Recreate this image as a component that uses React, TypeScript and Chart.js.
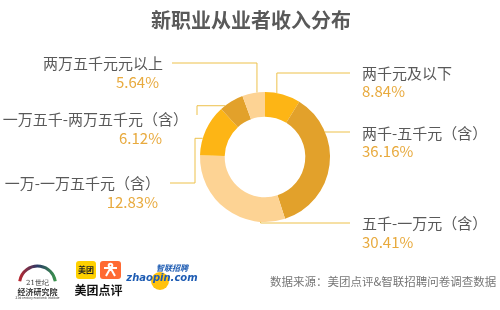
import React, { useEffect, useRef } from 'react';
import { Chart, registerables } from 'chart.js';

Chart.register(...registerables);

const categories = ['两千元及以下', '两千-五千元（含）', '五千-一万元（含）', '一万-一万五千元（含）', '一万五千-两万五千元（含）', '两万五千元元以上'];
const values = [8.84, 36.16, 30.41, 12.83, 6.12, 5.64];
const sliceColors = ['#FDB515', '#E2A12B', '#FDD394', '#FDB515', '#E2A12B', '#FDD394'];
const titleText = '新职业从业者收入分布';
const sourceText = '数据来源：美团点评&智联招聘问卷调查数据';

const FONT = '"Noto Sans CJK SC", "Noto Sans", sans-serif';

// label layout (positions only)
type LabelLayout = {
  side: 'left' | 'right';
  textX: number;
  pctX: number;
  textY: number;
  pctY: number;
  frac: number;
  route: 'vert' | 'horiz';
  elbow?: number;
  level: number;
  endX?: number;
};
const layouts: LabelLayout[] = [
  { side: 'right', textX: 362, pctX: 362, textY: 73, pctY: 91, frac: 0.33, route: 'vert', level: 73, endX: 350 },
  { side: 'right', textX: 362, pctX: 362, textY: 133, pctY: 151, frac: 0.27, route: 'vert', level: 132, endX: 350 },
  { side: 'right', textX: 362, pctX: 362, textY: 223, pctY: 242, frac: 0.2, route: 'vert', level: 223, endX: 350 },
  { side: 'left', textX: 160, pctX: 158, textY: 183, pctY: 202, frac: 0.33, route: 'horiz', elbow: 195, level: 183, endX: 170 },
  { side: 'left', textX: 188, pctX: 162, textY: 119, pctY: 138, frac: 0.2, route: 'horiz', elbow: 197, level: 115 },
  { side: 'left', textX: 163, pctX: 159, textY: 63, pctY: 82, frac: 0.65, route: 'vert', level: 63, endX: 172 },
];

const decorPlugin = {
  id: 'decor',
  afterDraw(chart: any) {
    const ctx: CanvasRenderingContext2D = chart.ctx;
    const meta = chart.getDatasetMeta(0);
    ctx.save();
    // title
    ctx.fillStyle = '#595959';
    ctx.font = `bold 20px ${FONT}`;
    ctx.textAlign = 'center';
    ctx.textBaseline = 'middle';
    ctx.fillText(titleText, 251, 20);

    // leader lines + labels
    meta.data.forEach((arc: any, i: number) => {
      const L = layouts[i];
      const p = arc.getProps(['x', 'y', 'startAngle', 'endAngle', 'outerRadius'], true);
      const a = p.startAngle + L.frac * (p.endAngle - p.startAngle);
      const ax = p.x + Math.cos(a) * p.outerRadius;
      const ay = p.y + Math.sin(a) * p.outerRadius;
      ctx.strokeStyle = '#EDC14B';
      ctx.lineWidth = 1;
      ctx.beginPath();
      ctx.moveTo(ax, ay);
      if (L.route === 'vert') {
        ctx.lineTo(ax, L.level);
        ctx.lineTo(L.endX as number, L.level);
      } else {
        ctx.lineTo(L.elbow as number, ay);
        ctx.lineTo(L.elbow as number, L.level);
        if (L.endX !== undefined) ctx.lineTo(L.endX, L.level);
      }
      ctx.stroke();

      ctx.textBaseline = 'middle';
      ctx.textAlign = L.side === 'right' ? 'left' : 'right';
      ctx.font = `15px ${FONT}`;
      ctx.fillStyle = '#595959';
      ctx.fillText(categories[i], L.textX, L.textY);
      ctx.fillStyle = '#E8AA3E';
      ctx.fillText(values[i].toFixed(2) + '%', L.pctX, L.pctY);
    });

    // source
    ctx.textAlign = 'left';
    ctx.font = `11.5px ${FONT}`;
    ctx.fillStyle = '#777777';
    ctx.fillText(sourceText, 270, 282);

    // logo 1: 21世纪经济研究院
    const grad = ctx.createLinearGradient(18, 0, 57, 0);
    grad.addColorStop(0, '#C1272D');
    grad.addColorStop(0.5, '#2B3A67');
    grad.addColorStop(1, '#3C9A4A');
    ctx.strokeStyle = grad;
    ctx.lineWidth = 3;
    ctx.beginPath();
    ctx.arc(37.5, 284, 18, Math.PI * 1.05, Math.PI * 1.95);
    ctx.stroke();
    ctx.textAlign = 'center';
    ctx.fillStyle = '#333';
    ctx.font = `7px "DejaVu Serif", serif`;
    ctx.fillText('21世纪', 37.5, 283);
    ctx.font = `bold 8px ${FONT}`;
    ctx.fillText('经济研究院', 37.5, 292);
    ctx.font = `3px ${FONT}`;
    ctx.fillText('21st century economic institute', 37.5, 297.5);

    // logo 2: 美团点评
    ctx.fillStyle = '#FFD100';
    ctx.beginPath();
    (ctx as any).roundRect(76, 261, 20, 18, 3);
    ctx.fill();
    ctx.fillStyle = '#FF6A33';
    ctx.beginPath();
    (ctx as any).roundRect(100, 261, 21, 18, 3);
    ctx.fill();
    ctx.fillStyle = '#222';
    ctx.font = `bold 8px ${FONT}`;
    ctx.fillText('美团', 86, 270);
    ctx.strokeStyle = '#fff';
    ctx.lineWidth = 2;
    ctx.beginPath();
    ctx.arc(110.5, 265.5, 1.8, 0, Math.PI * 2);
    ctx.moveTo(104, 268);
    ctx.lineTo(117, 268);
    ctx.moveTo(110.5, 268);
    ctx.lineTo(106, 276);
    ctx.moveTo(110.5, 268);
    ctx.lineTo(115, 276);
    ctx.stroke();
    ctx.fillStyle = '#111';
    ctx.font = `bold 12px ${FONT}`;
    ctx.fillText('美团点评', 98.5, 290);

    // logo 3: zhaopin.com
    ctx.fillStyle = '#FFC20E';
    ctx.beginPath();
    ctx.arc(160, 281, 9, 0, Math.PI * 2);
    ctx.fill();
    ctx.fillStyle = '#1E5CB3';
    ctx.font = `italic bold 8px ${FONT}`;
    ctx.fillText('智联招聘', 172, 268);
    ctx.font = `italic bold 10px "DejaVu Sans", sans-serif`;
    ctx.fillText('zhaopin.com', 162, 278);
    ctx.restore();
  },
};

export default function App() {
  const ref = useRef<HTMLCanvasElement>(null);
  useEffect(() => {
    if (!ref.current) return;
    const chart = new Chart(ref.current, {
      type: 'doughnut',
      data: {
        labels: categories,
        datasets: [
          {
            data: values,
            backgroundColor: sliceColors,
            borderWidth: 0,
          },
        ],
      },
      options: {
        responsive: false,
        animation: false,
        cutout: '62%',
        layout: { padding: { left: 200, right: 170, top: 92, bottom: 88 } },
        plugins: {
          legend: { display: false },
          tooltip: { enabled: false },
          title: { display: false },
        },
      },
      plugins: [decorPlugin],
    });
    return () => chart.destroy();
  }, []);
  return (
    <div style={{ position: 'absolute', left: 0, top: 0, width: 500, height: 310, background: '#fff' }}>
      <canvas ref={ref} width={500} height={310} />
    </div>
  );
}
